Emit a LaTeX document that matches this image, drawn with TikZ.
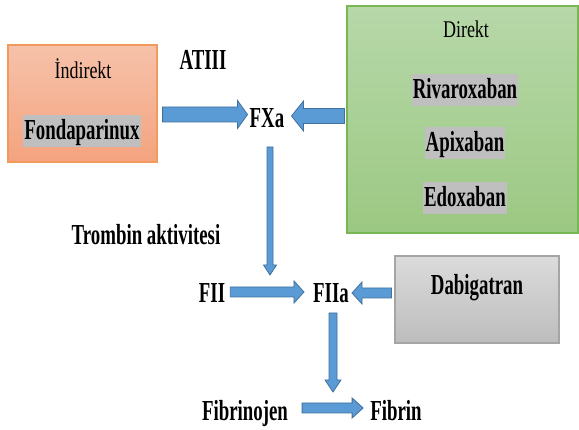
\documentclass[tikz,border=0pt]{standalone}
\usepackage{fontspec}
\setmainfont{Liberation Serif}[FakeStretch=0.65]
\newfontfamily\regf{Liberation Serif}[FakeStretch=0.75]
\usetikzlibrary{calc}
\definecolor{afill}{HTML}{5B9BD5}
\definecolor{aborder}{HTML}{41719C}
\definecolor{hlgray}{HTML}{BFBFBF}
\definecolor{orTop}{HTML}{F6C2AA}
\definecolor{orBot}{HTML}{F4A37E}
\definecolor{orLine}{HTML}{F29A5E}
\definecolor{grTop}{HTML}{B7D8A9}
\definecolor{grBot}{HTML}{9BC882}
\definecolor{grLine}{HTML}{78B553}
\definecolor{gyTop}{HTML}{DBDBDB}
\definecolor{gyBot}{HTML}{BDBDBD}
\definecolor{gyLine}{HTML}{A5A5A5}
\tikzset{
  bt/.style={font=\fontsize{29}{30}\selectfont\bfseries, inner sep=0pt, anchor=base},
  rt/.style={font=\regf\fontsize{24}{26}\selectfont, inner sep=0pt, anchor=base},
  hl/.style={bt, fill=hlgray, text height=25pt, text depth=7pt, inner xsep=1pt, inner ysep=0pt},
  boxsty/.style={rectangle, line width=1.2pt, inner sep=0pt},
  blkarrow/.style={fill=afill, draw=aborder, line width=0.8pt, line join=miter},
}
\newcommand\blkarrow[5]{%
  \path (#1) coordinate (bA) (#2) coordinate (bB);
  \pgfmathsetmacro\bs{#3/2}%
  \pgfmathsetmacro\bw{#4/2}%
  \path ($(bB)!#5pt!(bA)$) coordinate (bH);
  \draw[blkarrow] ($(bA)!\bs pt!90:(bB)$) -- ($(bH)!\bs pt!-90:(bA)$)
     -- ($(bH)!\bw pt!-90:(bA)$) -- (bB) -- ($(bH)!\bw pt!90:(bA)$)
     -- ($(bH)!\bs pt!90:(bA)$) -- ($(bA)!\bs pt!-90:(bB)$) -- cycle;
}
\begin{document}
\begin{tikzpicture}[x=1pt,y=-1pt]
\useasboundingbox (0,0) rectangle (579,430);
\fill[white] (0,0) rectangle (579,430);
% boxes
\node[boxsty, draw=orLine, top color=orTop, bottom color=orBot,
      minimum width=149pt, minimum height=117pt] (orange) at (82.5,103.5) {};
\node[boxsty, draw=grLine, top color=grTop, bottom color=grBot,
      minimum width=231pt, minimum height=227pt] (green) at (462.5,119.5) {};
\node[boxsty, draw=gyLine, top color=gyTop, bottom color=gyBot,
      minimum width=164pt, minimum height=87pt] (gray) at (477,299.5) {};
% texts
\node[rt] (indir) at (83,79) {İndirekt};
\node[hl] (fonda) at (82,140) {Fondaparinux};
\node[bt] (atiii) at (203,70) {ATIII};
\node[bt] (fxa) at (267,128) {FXa};
\node[rt] (direkt) at (466,38) {Direkt};
\node[hl] (riva) at (465,99) {Rivaroxaban};
\node[hl] (apix) at (465,152) {Apixaban};
\node[hl] (edox) at (465,207) {Edoxaban};
\node[bt] (trombin) at (146,245) {Trombin aktivitesi};
\node[bt] (fii) at (212,303) {FII};
\node[bt] (fiia) at (331,303) {FIIa};
\node[bt] (dabi) at (477,295) {Dabigatran};
\node[bt] (fibrinojen) at (245,421) {Fibrinojen};
\node[bt] (fibrin) at (396,421) {Fibrin};
% arrows
\blkarrow{$(orange.east)+(5,11)$}{$(fxa.base west)+(-2,-13.5)$}{15}{28}{10}
\blkarrow{$(green.west)+(-2,-3.5)$}{$(fxa.base east)+(7,-12)$}{15}{30}{12}
\blkarrow{$(fxa.base)+(3,19)$}{$(fii.base)+(58,-28)$}{6}{13}{10}
\blkarrow{$(fii.base east)+(5,-11)$}{$(fiia.base west)+(-9,-11)$}{10}{22}{10}
\blkarrow{$(gray.west)+(-3,-6.5)$}{$(fiia.base east)+(3,-10)$}{10}{22}{10}
\blkarrow{$(fiia.base)+(2,10)$}{$(fibrin.base)+(-63,-29)$}{8}{16}{12}
\blkarrow{$(fibrinojen.base east)+(14,-13)$}{$(fibrin.base west)+(-7,-13)$}{10}{20}{11}
\end{tikzpicture}
\end{document}
